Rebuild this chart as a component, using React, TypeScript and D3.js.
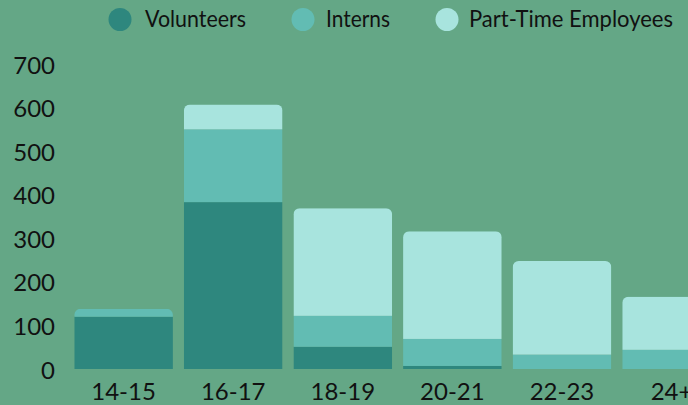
import React from 'react';
import { scaleBand, scaleLinear, stack } from 'd3';

const ageGroups = ['14-15', '16-17', '18-19', '20-21', '22-23', '24+'];
const volunteers = [120, 383, 51, 7, 0, 0];
const interns = [18, 167, 71, 62, 33, 44];
const partTime = [0, 57, 247, 247, 215, 122];
const seriesNames = ['Volunteers', 'Interns', 'Part-Time Employees'];
const seriesColors = ['#2e877e', '#62bcb3', '#a8e4de'];
const yTicks = [0, 100, 200, 300, 400, 500, 600, 700];

const width = 688;
const height = 405;
const font = 'Lato, sans-serif';

const App = () => {
    const rows = ageGroups.map((g, i) => ({
        group: g,
        Volunteers: volunteers[i],
        Interns: interns[i],
        'Part-Time Employees': partTime[i],
    }));
    const stacked = stack<any>().keys(seriesNames)(rows);

    const xScale = scaleBand()
        .domain(ageGroups)
        .range([68.8, 726.4])
        .paddingInner(0.1)
        .paddingOuter(0.05);

    const yScale = scaleLinear()
        .domain([0, 700])
        .range([369, 64]);

    const legend = [
        { cx: 120, tx: 145, w: 101 },
        { cx: 303, tx: 326, w: 64 },
        { cx: 447, tx: 469, w: 204 },
    ];

    return (
        <svg width={width} height={height} style={{ position: 'fixed', left: 0, top: 0, display: 'block' }}>
            <rect width={width} height={height} fill="#64a786" />
            <defs>
                {ageGroups.map((g, i) => {
                    const total = volunteers[i] + interns[i] + partTime[i];
                    const top = yScale(total);
                    return (
                        <clipPath id={`clip-${i}`} key={`clip-${g}`}>
                            <rect
                                x={xScale(g)}
                                y={top}
                                width={xScale.bandwidth()}
                                height={yScale(0) - top + 10}
                                rx={6}
                            />
                        </clipPath>
                    );
                })}
            </defs>

            {/* legend */}
            {seriesNames.map((name, i) => (
                <g key={`legend-${name}`}>
                    <circle cx={legend[i].cx} cy={19.5} r={11.5} fill={seriesColors[i]} />
                    <text
                        x={legend[i].tx}
                        y={27}
                        fontFamily={font}
                        fontSize={23}
                        fill="#111"
                        textLength={legend[i].w}
                        lengthAdjust="spacingAndGlyphs"
                    >
                        {name}
                    </text>
                </g>
            ))}

            {/* y axis labels */}
            {yTicks.map(t => (
                <text
                    key={`y-${t}`}
                    x={55}
                    y={yScale(t) + 9.5}
                    textAnchor="end"
                    fontFamily={font}
                    fontSize={24}
                    fill="#111"
                >
                    {t}
                </text>
            ))}

            {/* bars */}
            {ageGroups.map((g, i) => (
                <g key={`bar-${g}`} clipPath={`url(#clip-${i})`}>
                    {stacked.map((s, si) => {
                        const d = s[i];
                        if (d[1] - d[0] <= 0) return null;
                        return (
                            <rect
                                key={`seg-${g}-${si}`}
                                x={xScale(g)}
                                y={yScale(d[1])}
                                width={xScale.bandwidth()}
                                height={yScale(d[0]) - yScale(d[1])}
                                fill={seriesColors[si]}
                            />
                        );
                    })}
                </g>
            ))}

            {/* x axis labels */}
            {ageGroups.map(g => (
                <text
                    key={`x-${g}`}
                    x={(xScale(g) ?? 0) + xScale.bandwidth() / 2}
                    y={400}
                    textAnchor="middle"
                    fontFamily={font}
                    fontSize={24}
                    fill="#111"
                >
                    {g}
                </text>
            ))}
        </svg>
    );
};

export default App;
